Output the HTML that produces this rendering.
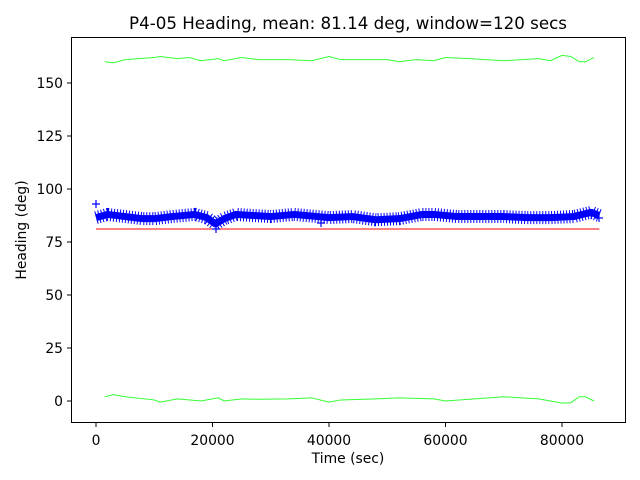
<!DOCTYPE html>
<html><head><style>body{margin:0;background:#fff}svg{display:block}text{font-family:"DejaVu Sans","Liberation Sans",sans-serif}</style></head>
<body>
<svg width="640" height="480" viewBox="0 0 640 480" xmlns="http://www.w3.org/2000/svg">
<rect width="640" height="480" fill="#fff"/>
<g transform="translate(96,401) scale(0.005825,-2.12)" fill="none">
<polyline vector-effect="non-scaling-stroke" stroke="#ff0000" stroke-width="1" points="0,81.14 86400,81.14"/>
<polyline vector-effect="non-scaling-stroke" stroke="#0000ff" stroke-width="7" stroke-linejoin="round" points="0,86.5 2000,88 5000,87 8000,86 10000,86 13000,87 17000,88 19000,86.5 20500,83.5 22000,86 24000,88 30000,87 34000,88 38000,87 40000,86.5 44000,87 48000,85.5 52000,86 56000,88 58000,88 62000,87 70000,87 74000,86.5 78000,86.5 82000,87 85000,89 86400,87.5"/>
<polyline vector-effect="non-scaling-stroke" stroke="#0000ff" stroke-width="13" stroke-dasharray="1 2" points="0,86.5 2000,88 5000,87 8000,86 10000,86 13000,87 17000,88 19000,86.5 20500,83.5 22000,86 24000,88 30000,87 34000,88 38000,87 40000,86.5 44000,87 48000,85.5 52000,86 56000,88 58000,88 62000,87 70000,87 74000,86.5 78000,86.5 82000,87 85000,89 86400,87.5"/>
<polyline vector-effect="non-scaling-stroke" stroke="#33ff33" stroke-width="1" points="1500,160 3000,159.5 5000,161 10000,162 11000,162.5 14000,161.5 16000,162 18000,160.5 21000,161.5 22000,160.5 25000,162 28000,161 33000,161 37000,160.5 40000,162.5 42000,161 50000,161 52000,160 55000,161 58000,160.5 60000,162 64000,161.5 70000,160.5 76000,161.5 78000,160.5 80000,163 81500,162.5 83000,160 84000,160 85500,162"/>
<polyline vector-effect="non-scaling-stroke" stroke="#33ff33" stroke-width="1" points="1500,2 3000,3 5000,2 10000,0.5 11000,-0.5 14000,1 18000,0 21000,1.5 22000,0 25000,1 28000,0.8 33000,1 37000,1.5 40000,-0.5 42000,0.5 48000,1 52000,1.5 58000,1 60000,0 70000,2 76000,1 78000,0 80000,-1 81500,-0.8 83000,2 84000,2 85500,0"/>
</g>
<g stroke="#0000ff" stroke-width="1.2">
<path d="M92,204h8M96,200v8M212,229h8M216,225v8M317,223h8M321,219v8M595,218h8M599,214v8"/>
</g>
<rect x="71.5" y="37.5" width="554" height="385" fill="none" stroke="#000" stroke-width="1"/>
<g stroke="#000" stroke-width="1">
<path d="M96,423v4M212.5,423v4M329,423v4M445.5,423v4M562,423v4"/>
<path d="M71,401h-4M71,348h-4M71,295h-4M71,242h-4M71,189h-4M71,136h-4M71,83h-4"/>
</g>
<g font-size="13.9" fill="#000" text-anchor="middle">
<text x="96" y="445">0</text><text x="212.5" y="445">20000</text><text x="329" y="445">40000</text><text x="445.5" y="445">60000</text><text x="562" y="445">80000</text>
<text x="348" y="463">Time (sec)</text>
</g>
<g font-size="13.9" fill="#000" text-anchor="end">
<text x="63" y="406">0</text><text x="63" y="353">25</text><text x="63" y="300">50</text><text x="63" y="247">75</text><text x="63" y="194">100</text><text x="63" y="141">125</text><text x="63" y="88">150</text>
</g>
<text x="26" y="230" font-size="13.9" text-anchor="middle" transform="rotate(-90 26 230)">Heading (deg)</text>
<text x="348" y="29" font-size="16.7" text-anchor="middle">P4-05 Heading, mean: 81.14 deg, window=120 secs</text>
</svg>
</body></html>
